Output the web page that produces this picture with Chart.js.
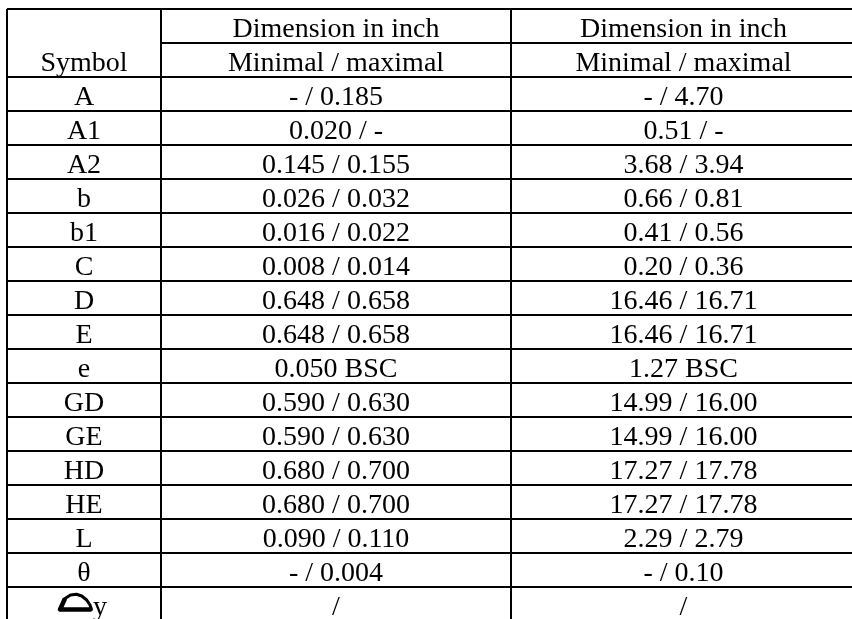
<!DOCTYPE html>
<html>
<head>
<meta charset="utf-8">
<script src="https://cdn.jsdelivr.net/npm/chart.js@4.4.1/dist/chart.umd.min.js"></script>
<style>
  html, body { margin: 0; padding: 0; background: #fff; overflow: hidden; }
  #dimTable { display: block; }
</style>
</head>
<body>
<!-- canvas is a little larger than the window: the right and bottom border fall just outside, as in the scan -->
<canvas id="dimTable" width="856" height="621"></canvas>
<script>
const headerTop = ['', 'Dimension in inch', 'Dimension in inch'];
const headerBottom = ['Symbol', 'Minimal / maximal', 'Minimal / maximal'];
const symbols = ['A', 'A1', 'A2', 'b', 'b1', 'C', 'D', 'E', 'e', 'GD', 'GE', 'HD', 'HE', 'L', 'θ', 'Δy'];
const inchValues = ['- / 0.185', '0.020 / -', '0.145 / 0.155', '0.026 / 0.032', '0.016 / 0.022',
  '0.008 / 0.014', '0.648 / 0.658', '0.648 / 0.658', '0.050 BSC', '0.590 / 0.630', '0.590 / 0.630',
  '0.680 / 0.700', '0.680 / 0.700', '0.090 / 0.110', '- / 0.004', '/'];
const mmValues = ['- / 4.70', '0.51 / -', '3.68 / 3.94', '0.66 / 0.81', '0.41 / 0.56',
  '0.20 / 0.36', '16.46 / 16.71', '16.46 / 16.71', '1.27 BSC', '14.99 / 16.00', '14.99 / 16.00',
  '17.27 / 17.78', '17.27 / 17.78', '2.29 / 2.79', '- / 0.10', '/'];

// table geometry (x in px-like units, y in rows)
const colWidths = [154, 350, 345];
const colEdges = colWidths.reduce((acc, w) => acc.concat(acc[acc.length - 1] + w), [0]);
const rowCount = symbols.length + 2;
const FONT = "28px 'Liberation Serif', 'Times New Roman', serif";

function buildColumn(colIndex, values) {
  const labels = [headerTop[colIndex], headerBottom[colIndex]].concat(values);
  const center = (colEdges[colIndex] + colEdges[colIndex + 1]) / 2;
  return {
    labels: labels,
    data: labels.map((_, i) => ({x: center, y: i + 0.5})),
    pointRadius: 0,
    pointHoverRadius: 0
  };
}

function drawDeltaGlyph(ctx, x, y) {
  // the odd little trapezium that stands in front of "y" in the last row
  ctx.save();
  ctx.strokeStyle = '#000';
  ctx.lineJoin = 'round';
  ctx.lineWidth = 3;
  ctx.beginPath();
  ctx.moveTo(x - 24, y + 5.5);
  ctx.lineTo(x - 19, y - 5.5);
  ctx.lineTo(x - 13.5, y - 9);
  ctx.lineTo(x - 7.5, y - 9.7);
  ctx.lineTo(x - 2.3, y - 8);
  ctx.lineTo(x + 2.7, y - 4);
  ctx.lineTo(x + 6, y + 1);
  ctx.lineTo(x + 7.5, y + 5.5);
  ctx.closePath();
  ctx.stroke();
  ctx.lineWidth = 4.5;
  ctx.beginPath();
  ctx.moveTo(x - 19, y - 5.5);
  ctx.lineTo(x - 24, y + 5.5);
  ctx.lineTo(x + 7.5, y + 5.5);
  ctx.stroke();
  ctx.restore();
  ctx.textAlign = 'left';
  ctx.fillText('y', x + 9, y + 10.5);
}

const cellTextPlugin = {
  id: 'cellText',
  afterDatasetsDraw(chart) {
    const ctx = chart.ctx;
    const xScale = chart.scales.x;
    const yScale = chart.scales.y;
    // header divider only runs under the two dimension columns
    ctx.save();
    ctx.strokeStyle = '#000';
    ctx.lineWidth = 2;
    ctx.beginPath();
    const yDiv = Math.round(yScale.getPixelForValue(1));
    ctx.moveTo(xScale.getPixelForValue(colEdges[1]), yDiv);
    ctx.lineTo(xScale.getPixelForValue(colEdges[3]), yDiv);
    ctx.stroke();
    ctx.restore();

    ctx.save();
    ctx.font = FONT;
    ctx.fillStyle = '#000';
    ctx.textBaseline = 'alphabetic';
    chart.data.datasets.forEach((ds, di) => {
      chart.getDatasetMeta(di).data.forEach((el, i) => {
        const label = ds.labels[i];
        if (!label) return;
        if (label.startsWith('Δ')) {
          drawDeltaGlyph(ctx, el.x, el.y);
          return;
        }
        ctx.textAlign = 'center';
        ctx.fillText(label, el.x, el.y + 10.5);
      });
    });
    ctx.restore();
  }
};

function createDimensionTable() {
  const ctx = document.getElementById('dimTable');
  return new Chart(ctx, {
    type: 'scatter',
    data: {
      datasets: [
        buildColumn(0, symbols),
        buildColumn(1, inchValues),
        buildColumn(2, mmValues)
      ]
    },
    options: {
      responsive: false,
      animation: false,
      devicePixelRatio: 1,
      events: [],
      layout: {
        padding: {left: 7, top: 9, right: 0, bottom: 0}
      },
      plugins: {
        legend: {display: false},
        tooltip: {enabled: false}
      },
      scales: {
        x: {
          type: 'linear',
          min: colEdges[0],
          max: colEdges[colEdges.length - 1],
          afterBuildTicks: (scale) => { scale.ticks = colEdges.map(v => ({value: v})); },
          ticks: {display: false},
          border: {display: false},
          grid: {color: '#000', lineWidth: 2, drawTicks: false}
        },
        y: {
          type: 'linear',
          reverse: true,
          min: 0,
          max: rowCount,
          afterBuildTicks: (scale) => {
            scale.ticks = Array.from({length: rowCount + 1}, (_, i) => ({value: i}));
          },
          ticks: {display: false},
          border: {display: false},
          grid: {
            color: (c) => (c.tick && c.tick.value === 1 ? 'rgba(0,0,0,0)' : '#000'),
            lineWidth: 2,
            drawTicks: false
          }
        }
      }
    },
    plugins: [cellTextPlugin]
  });
}

createDimensionTable();
</script>
</body>
</html>
